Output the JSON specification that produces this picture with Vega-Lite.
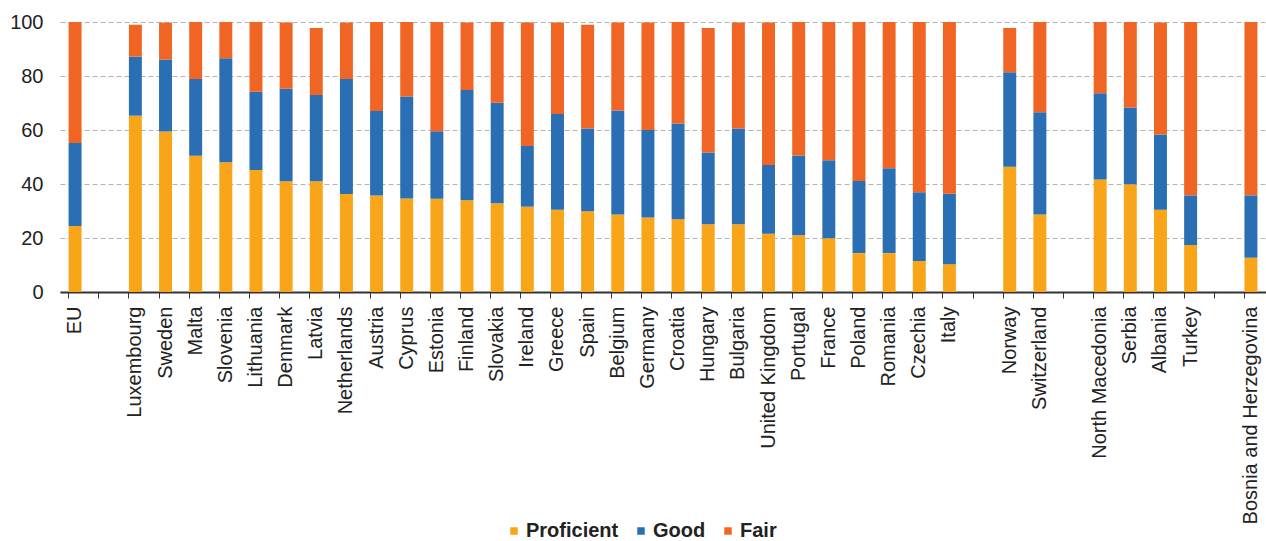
{
  "$schema": "https://vega.github.io/schema/vega-lite/v6.json",
  "autosize": "none",
  "width": 1206,
  "height": 270,
  "padding": {"left": 60, "top": 22, "right": 0, "bottom": 249},
  "background": "white",
  "title": {
    "text": "(% of people aged 25-64 who know at least one foreign language, by level in their best-known foreign language)",
    "anchor": "start",
    "frame": "bounds",
    "orient": "top",
    "baseline": "alphabetic",
    "offset": 5,
    "font": "Liberation Sans",
    "fontSize": 18,
    "fontWeight": "normal",
    "color": "#222222"
  },
  "config": {
    "view": {"stroke": null},
    "font": "Liberation Sans"
  },
  "data": {
    "values": [
      {"country": "EU", "Proficient": 24.4, "Good": 30.8, "Fair": 44.8},
      {"country": "Luxembourg", "Proficient": 65.3, "Good": 21.9, "Fair": 11.8},
      {"country": "Sweden", "Proficient": 59.4, "Good": 26.7, "Fair": 13.7},
      {"country": "Malta", "Proficient": 50.5, "Good": 28.4, "Fair": 21.1},
      {"country": "Slovenia", "Proficient": 48.1, "Good": 38.5, "Fair": 13.4},
      {"country": "Lithuania", "Proficient": 45.2, "Good": 29.0, "Fair": 25.8},
      {"country": "Denmark", "Proficient": 41.0, "Good": 34.3, "Fair": 24.5},
      {"country": "Latvia", "Proficient": 41.0, "Good": 32.0, "Fair": 24.8},
      {"country": "Netherlands", "Proficient": 36.3, "Good": 42.6, "Fair": 20.9},
      {"country": "Austria", "Proficient": 35.7, "Good": 31.3, "Fair": 33.0},
      {"country": "Cyprus", "Proficient": 34.6, "Good": 37.8, "Fair": 27.6},
      {"country": "Estonia", "Proficient": 34.5, "Good": 25.0, "Fair": 40.5},
      {"country": "Finland", "Proficient": 34.0, "Good": 40.8, "Fair": 25.0},
      {"country": "Slovakia", "Proficient": 32.9, "Good": 37.2, "Fair": 29.9},
      {"country": "Ireland", "Proficient": 31.6, "Good": 22.5, "Fair": 45.7},
      {"country": "Greece", "Proficient": 30.5, "Good": 35.4, "Fair": 33.9},
      {"country": "Spain", "Proficient": 29.9, "Good": 30.7, "Fair": 38.4},
      {"country": "Belgium", "Proficient": 28.7, "Good": 38.5, "Fair": 32.6},
      {"country": "Germany", "Proficient": 27.6, "Good": 32.4, "Fair": 39.8},
      {"country": "Croatia", "Proficient": 26.9, "Good": 35.5, "Fair": 37.6},
      {"country": "Hungary", "Proficient": 25.1, "Good": 26.6, "Fair": 46.1},
      {"country": "Bulgaria", "Proficient": 25.1, "Good": 35.5, "Fair": 39.2},
      {"country": "United Kingdom", "Proficient": 21.6, "Good": 25.4, "Fair": 52.8},
      {"country": "Portugal", "Proficient": 21.0, "Good": 29.6, "Fair": 49.4},
      {"country": "France", "Proficient": 19.9, "Good": 28.9, "Fair": 51.2},
      {"country": "Poland", "Proficient": 14.4, "Good": 26.7, "Fair": 58.9},
      {"country": "Romania", "Proficient": 14.4, "Good": 31.4, "Fair": 54.2},
      {"country": "Czechia", "Proficient": 11.5, "Good": 25.4, "Fair": 63.1},
      {"country": "Italy", "Proficient": 10.3, "Good": 26.1, "Fair": 63.6},
      {"country": "Norway", "Proficient": 46.4, "Good": 35.0, "Fair": 16.4},
      {"country": "Switzerland", "Proficient": 28.7, "Good": 37.9, "Fair": 33.4},
      {"country": "North Macedonia", "Proficient": 41.7, "Good": 31.9, "Fair": 26.4},
      {"country": "Serbia", "Proficient": 39.9, "Good": 28.4, "Fair": 31.7},
      {"country": "Albania", "Proficient": 30.5, "Good": 27.8, "Fair": 41.5},
      {"country": "Turkey", "Proficient": 17.4, "Good": 18.4, "Fair": 64.2},
      {"country": "Bosnia and Herzegovina", "Proficient": 12.7, "Good": 23.1, "Fair": 64.2}
    ]
  },
  "transform": [
    {"fold": ["Proficient", "Good", "Fair"], "as": ["level", "value"]}
  ],
  "mark": {"type": "bar"},
  "encoding": {
    "x": {
      "field": "country",
      "type": "nominal",
      "sort": null,
      "scale": {
        "domain": ["EU", "gap1", "Luxembourg", "Sweden", "Malta", "Slovenia", "Lithuania", "Denmark", "Latvia", "Netherlands", "Austria", "Cyprus", "Estonia", "Finland", "Slovakia", "Ireland", "Greece", "Spain", "Belgium", "Germany", "Croatia", "Hungary", "Bulgaria", "United Kingdom", "Portugal", "France", "Poland", "Romania", "Czechia", "Italy", "gap2", "Norway", "Switzerland", "gap3", "North Macedonia", "Serbia", "Albania", "Turkey", "gap4", "Bosnia and Herzegovina"],
        "paddingInner": 0.57,
        "paddingOuter": 0.285
      },
      "axis": {
        "title": null,
        "labelAngle": -90,
        "labelExpr": "indexof(datum.value, 'gap') == 0 ? '' : datum.value",
        "labelFontSize": 20,
        "labelColor": "#222222",
        "labelPadding": 8,
        "labelLimit": 300,
        "bandPosition": 0,
        "ticks": true,
        "tickSize": 6,
        "tickColor": "#333333",
        "domainColor": "#333333",
        "domainWidth": 2,
        "grid": false
      }
    },
    "y": {
      "field": "value",
      "type": "quantitative",
      "stack": "zero",
      "scale": {"domain": [0, 100], "nice": false},
      "axis": {
        "title": null,
        "tickCount": 5,
        "labelFontSize": 20,
        "labelColor": "#222222",
        "labelPadding": 17,
        "ticks": false,
        "domain": false,
        "grid": true,
        "gridColor": "#b4b4b4",
        "gridDash": [5, 3]
      }
    },
    "color": {
      "field": "level",
      "type": "nominal",
      "sort": ["Proficient", "Good", "Fair"],
      "scale": {
        "domain": ["Proficient", "Good", "Fair"],
        "range": ["#F9A51A", "#2A6EB4", "#F06524"]
      },
      "legend": {
        "title": null,
        "orient": "none",
        "direction": "horizontal",
        "legendX": 444,
        "legendY": 499,
        "symbolType": "square",
        "symbolSize": 56,
        "labelFontSize": 20,
        "labelFontWeight": "bold",
        "labelColor": "#222222",
        "labelOffset": 2,
        "columnPadding": 12
      }
    }
  }
}
